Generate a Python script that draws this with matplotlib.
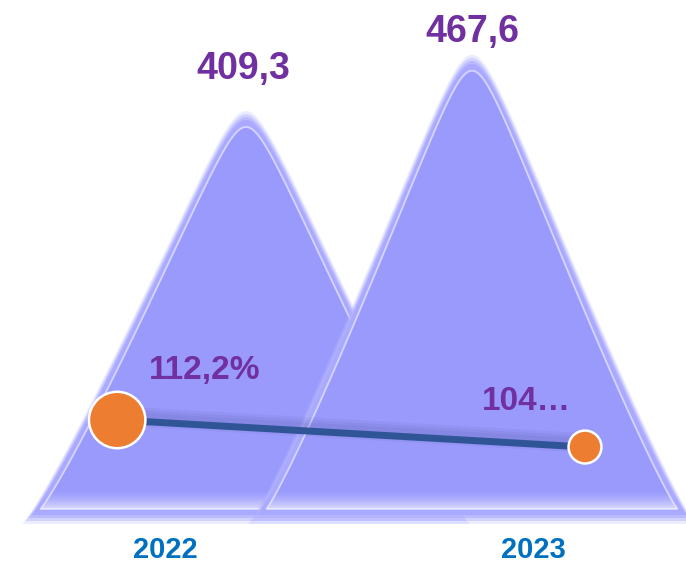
import numpy as np
import matplotlib
matplotlib.use("Agg")
import matplotlib.pyplot as plt
from matplotlib.patches import Polygon
import matplotlib.patheffects as pe

plt.rcParams['font.family'] = ['Liberation Sans', 'DejaVu Sans']

# data
years = ['2022', '2023']
volume = [409.3, 467.6]
volume_labels = ['409,3', '467,6']
growth = [112.2, 104.3]
growth_labels = ['112,2%', '104…']

# colours
glow_col = '#B4B4FF'
rim_col = '#A9A9FF'
body_col = '#9A9AFD'
line_col = '#2F5597'
dot_col = '#ED7D31'
val_col = '#7030A0'
year_col = '#0070C0'

W, H = 686, 564
px_x = 226.0      # pixels per category step
px_y = 0.965      # pixels per value unit
half_w = 0.95     # half width of a peak, in category units


def peak_poly(cx, h, w, base=0.0, **kw):
    # triangle-like peak with a rounded top
    u = np.linspace(-1, 1, 300)
    r = 0.09
    g = (np.sqrt(u**2 + r**2) - r) / (np.sqrt(1 + r**2) - r)
    y = base + (h - base) * (1 - g) ** 1.12
    x = cx + w * u
    return Polygon(np.column_stack([x, y]), closed=True, **kw)


fig = plt.figure(figsize=(W / 100, H / 100), dpi=100)
ax = fig.add_axes([0, 0, 1, 1])
ax.set_xlim(-246 / px_x, (W - 246) / px_x)
ax.set_ylim(-(H - 515) / px_y, 515 / px_y)
ax.axis('off')

x = np.arange(len(years))
dx = 1 / px_x   # one pixel in x
dy = 1 / px_y   # one pixel in y

for i, (xi, v) in enumerate(zip(x, volume)):
    z = 2 + i * 2
    # soft glow
    for k, a in [(9, 0.25), (6, 0.45), (3, 0.8)]:
        ax.add_patch(peak_poly(xi, v + k * dy, half_w + k * dx, -k * dy,
                               facecolor=glow_col, edgecolor='none', alpha=a, zorder=z))
    # rim
    ax.add_patch(peak_poly(xi, v, half_w, 0, facecolor=rim_col, edgecolor='none', zorder=z))
    # body with bevel line
    inner = peak_poly(xi, v - 7 * dy, half_w - 9 * dx, 6 * dy,
                      facecolor=body_col, edgecolor=(1, 1, 1, 0.55), lw=1.3, zorder=z)
    ax.add_patch(inner)
    # light band at the base
    grad = np.zeros((40, 2, 4))
    grad[..., :3] = 1.0
    grad[..., 3] = np.linspace(0.75, 0, 40)[:, None] ** 1.6
    im = ax.imshow(grad, extent=[xi - half_w, xi + half_w, 6 * dy, 26 * dy],
                   origin='lower', aspect='auto', zorder=z + 0.5, interpolation='bilinear')
    im.set_clip_path(inner)
    # value label
    off = [37, 23][i]
    ax.annotate(volume_labels[i], (xi, v), xytext=(-2 if i == 0 else 0, off),
                textcoords='offset points', ha='center', va='center',
                fontsize=27, fontweight='bold', color=val_col, zorder=20)
    # category label
    ax.annotate(years[i], (xi, 0), xytext=([-58, 44][i], -25),
                textcoords='offset points', ha='center', va='center',
                fontsize=21, fontweight='bold', color=year_col, zorder=20)

# growth line on secondary scale
ax2 = ax.twinx()
ax2.set_position([0, 0, 1, 1])
ax2.set_ylim(112.2 - 144 / 3.42, 112.2 + 420 / 3.42)
ax2.axis('off')
line_x = x + np.array([-0.57, 0.5])
shadow = [pe.SimpleLineShadow(offset=(0, o), shadow_color='#3c3c80', alpha=0.07, linewidth=w)
          for o, w in [(3, 14), (3, 10), (2.5, 7)]]
ax2.plot(line_x, growth, color=line_col, lw=5, solid_capstyle='butt', zorder=5,
         path_effects=shadow + [pe.Normal()])
ax2.scatter(line_x, growth, s=[1650, 560], color=dot_col, edgecolor='white',
            linewidth=1.8, zorder=6)
for lx, g, lab, off in zip(line_x, growth, growth_labels, [(63, 36), (-42, 33)]):
    ax2.annotate(lab, (lx, g), xytext=off, textcoords='offset points',
                 ha='center', va='center', fontsize=24, fontweight='bold',
                 color=val_col, zorder=20)

fig.savefig('out.png', dpi=100)
